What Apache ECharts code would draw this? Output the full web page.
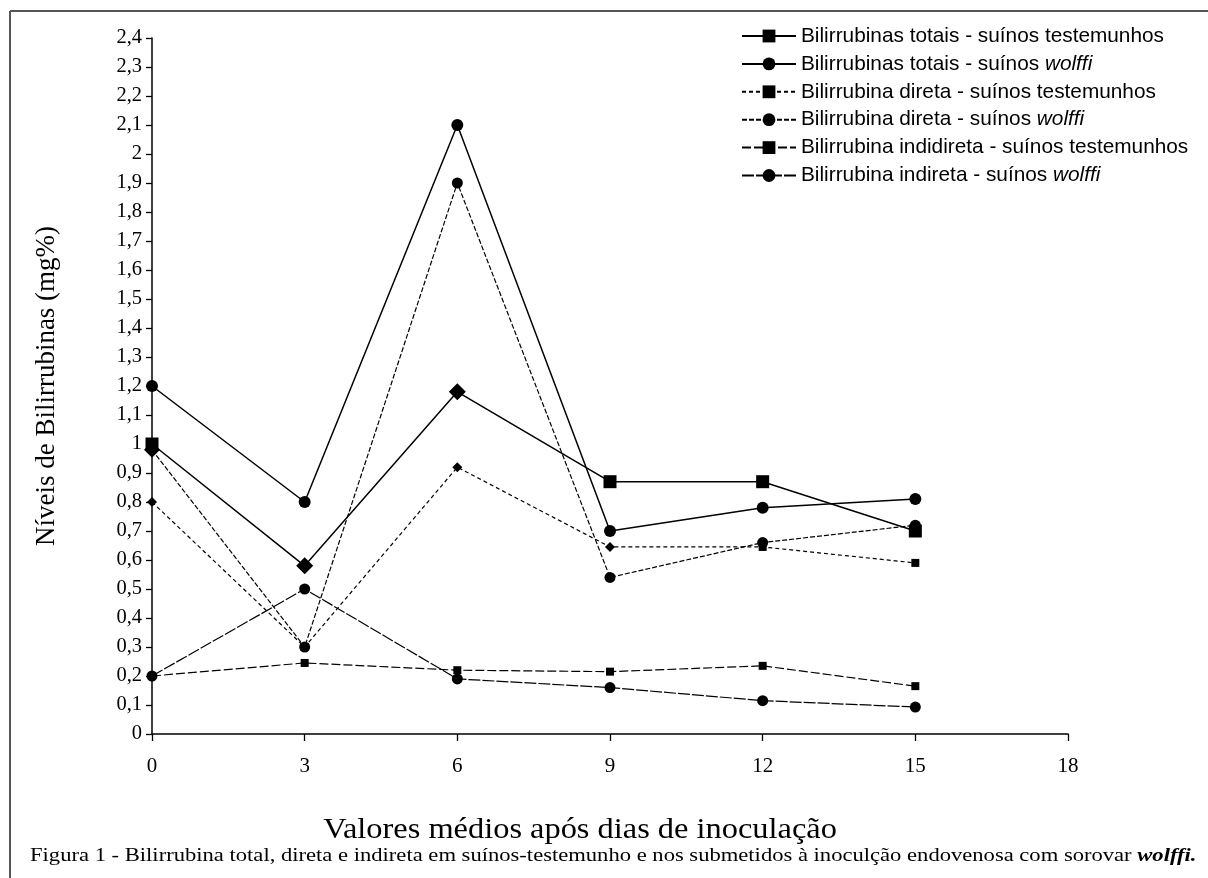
<!DOCTYPE html>
<html>
<head>
<meta charset="utf-8">
<script src="https://cdn.jsdelivr.net/npm/echarts@6/dist/echarts.min.js"></script>
<style>
  html, body { margin: 0; padding: 0; background: #fff; }
  #main { width: 1208px; height: 878px; }
</style>
</head>
<body>
<div id="main"></div>
<script>
// dias de inoculacao
var days = [0, 3, 6, 9, 12, 15]
var totaisTest = [1.0, 0.58, 1.18, 0.87, 0.87, 0.70]
var totaisWolffi = [1.2, 0.80, 2.10, 0.70, 0.78, 0.81]
var diretaTest = [0.80, 0.30, 0.92, 0.645, 0.645, 0.59]
var diretaWolffi = [0.98, 0.30, 1.90, 0.54, 0.66, 0.72]
var indiretaTest = [0.20, 0.245, 0.22, 0.215, 0.235, 0.165]
var indiretaWolffi = [0.20, 0.50, 0.19, 0.16, 0.115, 0.093]

var names = [
    'Bilirrubinas totais - suínos testemunhos',
    'Bilirrubinas totais - suínos wolffi',
    'Bilirrubina direta - suínos testemunhos',
    'Bilirrubina direta - suínos wolffi',
    'Bilirrubina indidireta - suínos testemunhos',
    'Bilirrubina indireta - suínos wolffi'
]

// points drawn with a different marker than the series one
function pairs(arr, special){
    var out = []
    for(var i = 0; i < days.length; i++){
        var item = { value: [days[i], arr[i]] }
        if(special && special[i]){
            item.symbol = special[i][0]
            item.symbolSize = special[i][1]
        }
        out.push(item)
    }
    return out
}

var serif = '"Liberation Serif", "Times New Roman", serif'
var sans = '"Liberation Sans", Arial, sans-serif'

function mkSeries(name, arr, symbol, size, dash, width, special){
    return {
        name: name,
        type: 'line',
        data: pairs(arr, special),
        symbol: symbol,
        symbolSize: size,
        itemStyle: { color: '#000' },
        lineStyle: { color: '#000', width: width, type: dash },
        animation: false
    }
}

var myChart = echarts.init(document.getElementById('main'))

var option = {
    backgroundColor: '#fff',
    grid: { left: 152, right: 140, top: 38, bottom: 144 },
    legend: {
        orient: 'vertical',
        left: 736,
        top: 20.5,
        itemWidth: 54,
        itemHeight: 16,
        itemGap: 6.9,
        data: names,
        formatter: function(n){
            if(n.indexOf('wolffi') >= 0){
                return '{a|' + n.replace('wolffi', '') + '}{i|wolffi}'
            }
            return '{a|' + n + '}'
        },
        textStyle: {
            color: '#000',
            rich: {
                a: { fontFamily: sans, fontSize: 20.8, color: '#000' },
                i: { fontFamily: sans, fontSize: 20.8, color: '#000', fontStyle: 'italic' }
            }
        }
    },
    xAxis: {
        type: 'value',
        min: 0,
        max: 18,
        interval: 3,
        splitLine: { show: false },
        axisLine: { lineStyle: { color: '#000', width: 1.5 } },
        axisTick: { length: 7, lineStyle: { color: '#000', width: 1.3 } },
        axisLabel: { color: '#000', fontFamily: serif, fontSize: 21, margin: 22 }
    },
    yAxis: {
        type: 'value',
        min: 0,
        max: 2.4,
        interval: 0.1,
        splitLine: { show: false },
        axisLine: { show: true, lineStyle: { color: '#000', width: 1.5 } },
        axisTick: { show: true, length: 6, lineStyle: { color: '#000', width: 1.3 } },
        axisLabel: {
            color: '#000', fontFamily: serif, fontSize: 20.5, margin: 10,
            formatter: function(v){
                return String(Math.round(v * 10) / 10).replace('.', ',')
            }
        },
        name: 'Níveis de Bilirrubinas (mg%)',
        nameLocation: 'middle',
        nameGap: 92,
        nameTextStyle: { color: '#000', fontFamily: serif, fontSize: 27 }
    },
    graphic: [
        { type: 'line', shape: { x1: 10, y1: 11, x2: 1208, y2: 11 }, style: { stroke: '#555', lineWidth: 2 } },
        { type: 'line', shape: { x1: 10, y1: 11, x2: 10, y2: 878 }, style: { stroke: '#555', lineWidth: 2 } },
        {
            type: 'text', x: 580, y: 830, scaleX: 1.08,
            style: {
                text: 'Valores médios após dias de inoculação', font: '30px ' + serif, fill: '#000',
                align: 'center', verticalAlign: 'middle'
            }
        },
        {
            type: 'text', x: 30, y: 856, scaleX: 1.165,
            style: {
                text: '{a|Figura 1 - Bilirrubina total, direta e indireta em suínos-testemunho e nos submetidos à inoculção endovenosa com sorovar }{b|wolffi.}',
                verticalAlign: 'middle',
                rich: {
                    a: { fontFamily: serif, fontSize: 19.4, fill: '#000' },
                    b: { fontFamily: serif, fontSize: 19.4, fill: '#000', fontWeight: 'bold', fontStyle: 'italic' }
                }
            }
        }
    ],
    series: [
        mkSeries(names[0], totaisTest, 'rect', 13, 'solid', 1.5, { 1: ['diamond', 17], 2: ['diamond', 17] }),
        mkSeries(names[1], totaisWolffi, 'circle', 12, 'solid', 1.5),
        mkSeries(names[2], diretaTest, 'rect', 8, [4, 3], 1.2, { 0: ['diamond', 10], 2: ['diamond', 10], 3: ['diamond', 10] }),
        mkSeries(names[3], diretaWolffi, 'circle', 11, [5, 2], 1.2, { 0: ['diamond', 16] }),
        mkSeries(names[4], indiretaTest, 'rect', 8, [9, 3], 1.2),
        mkSeries(names[5], indiretaWolffi, 'circle', 11, [12, 2], 1.2)
    ]
}

myChart.setOption(option)
</script>
</body>
</html>
